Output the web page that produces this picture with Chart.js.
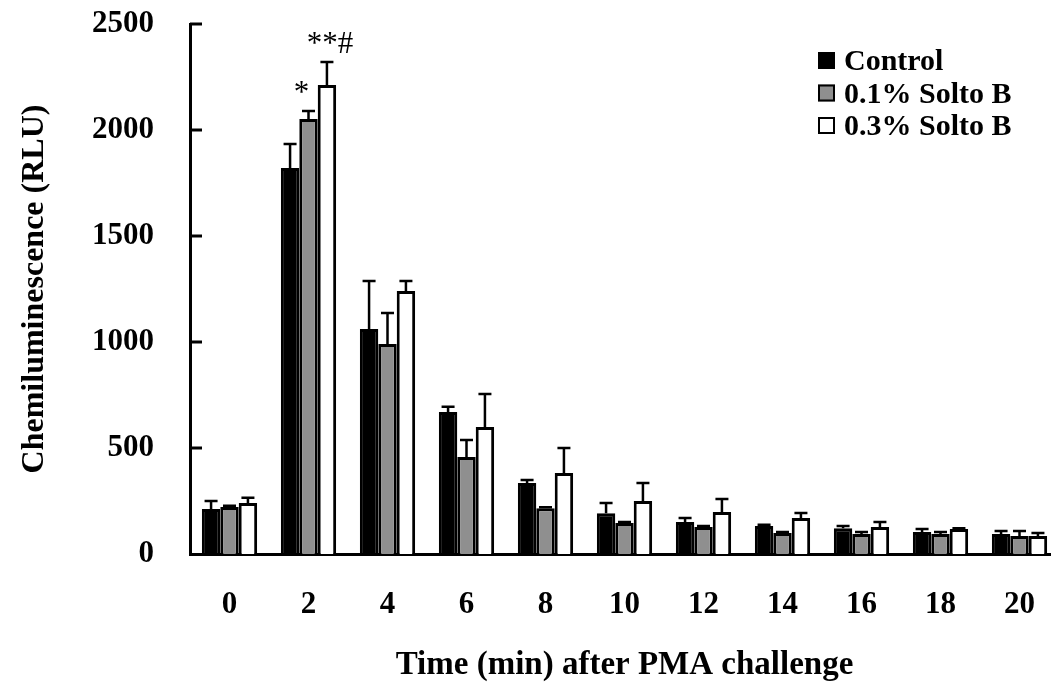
<!DOCTYPE html>
<html>
<head>
<meta charset="utf-8">
<script src="https://cdn.jsdelivr.net/npm/chart.js@4"></script>
<style>
  html, body { margin: 0; padding: 0; background: #fff; overflow: hidden; }
  canvas { display: block; }
</style>
</head>
<body>
<canvas id="chart" width="1060" height="682"></canvas>
<script>
// Time after PMA challenge (min)
const timePoints = ['0', '2', '4', '6', '8', '10', '12', '14', '16', '18', '20'];

// Mean chemiluminescence (RLU) and upper error per group
const controlMean = [212, 1821, 1061, 670, 335, 192, 151, 132, 121, 104, 94];
const controlErr  = [38, 113, 227, 24, 14, 49, 19, 6, 11, 14, 14];
const solto01Mean = [222, 2052, 991, 458, 216, 146, 127, 99, 94, 94, 85];
const solto01Err  = [6, 38, 146, 80, 5, 5, 5, 5, 10, 10, 23];
const solto03Mean = [240, 2212, 1241, 599, 382, 250, 198, 170, 127, 118, 85];
const solto03Err  = [25, 109, 47, 156, 118, 85, 61, 23, 24, 4, 14];

// Significance marks
const controlSig = ['', '', '', '', '', '', '', '', '', '', ''];
const solto01Sig = ['', '*', '', '', '', '', '', '', '', '', ''];
const solto03Sig = ['', '**#', '', '', '', '', '', '', '', '', ''];

// Y axis tick values
const yTicks = [0, 500, 1000, 1500, 2000, 2500];

const SERIF = '"Liberation Serif", "Times New Roman", serif';

// Upward error bars with caps, plus significance marks above them
const errorBarPlugin = {
  id: 'errorBars',
  afterDatasetsDraw(chart) {
    const ctx = chart.ctx;
    const y = chart.scales.y;
    ctx.save();
    chart.data.datasets.forEach((ds, i) => {
      const meta = chart.getDatasetMeta(i);
      meta.data.forEach((bar, j) => {
        const top = y.getPixelForValue(ds.data[j] + ds.errors[j]);
        ctx.strokeStyle = '#000';
        ctx.lineWidth = 2.5;
        ctx.beginPath();
        ctx.moveTo(bar.x, bar.y);
        ctx.lineTo(bar.x, top);
        ctx.moveTo(bar.x - 6.5, top);
        ctx.lineTo(bar.x + 6.5, top);
        ctx.stroke();
        const mark = ds.sig[j];
        if (mark) {
          ctx.fillStyle = '#000';
          ctx.font = '31px ' + SERIF;
          ctx.textAlign = 'center';
          ctx.textBaseline = 'alphabetic';
          ctx.fillText(mark, bar.x + (mark.length > 1 ? 3 : -7), top - 9);
        }
      });
    });
    ctx.restore();
  }
};

// Inward tick marks on the value axis
const innerTicksPlugin = {
  id: 'innerTicks',
  afterDraw(chart) {
    const ctx = chart.ctx;
    const y = chart.scales.y;
    const left = chart.chartArea.left;
    ctx.save();
    ctx.strokeStyle = '#000';
    ctx.lineWidth = 3;
    y.ticks.forEach(t => {
      if (t.value === 0) return;
      const py = y.getPixelForValue(t.value);
      ctx.beginPath();
      ctx.moveTo(left, py);
      ctx.lineTo(left + 12, py);
      ctx.stroke();
    });
    ctx.restore();
  }
};

// Legend drawn inside the plot area, top right
const boxLegendPlugin = {
  id: 'boxLegend',
  afterDraw(chart) {
    const ctx = chart.ctx;
    const x0 = chart.chartArea.right - 241;
    const y0 = 52;
    const rowH = 32.5;
    ctx.save();
    chart.data.datasets.forEach((ds, i) => {
      const by = y0 + i * rowH;
      ctx.fillStyle = ds.backgroundColor;
      ctx.fillRect(x0, by, 17, 17);
      ctx.strokeStyle = '#000';
      ctx.lineWidth = 2;
      ctx.strokeRect(x0 + 1, by + 1, 15, 15);
      ctx.fillStyle = '#000';
      ctx.font = 'bold 30px ' + SERIF;
      ctx.textAlign = 'left';
      ctx.textBaseline = 'alphabetic';
      ctx.fillText(ds.label, x0 + 26, by + 18);
    });
    ctx.restore();
  }
};

const barStyle = { borderColor: '#000', borderWidth: 3 };

new Chart(document.getElementById('chart'), {
  type: 'bar',
  data: {
    labels: timePoints,
    datasets: [
      { label: 'Control', data: controlMean, errors: controlErr, sig: controlSig,
        backgroundColor: '#000000', ...barStyle },
      { label: '0.1% Solto B', data: solto01Mean, errors: solto01Err, sig: solto01Sig,
        backgroundColor: '#8f8f8f', ...barStyle },
      { label: '0.3% Solto B', data: solto03Mean, errors: solto03Err, sig: solto03Sig,
        backgroundColor: '#ffffff', ...barStyle }
    ]
  },
  options: {
    responsive: false,
    animation: false,
    devicePixelRatio: 1,
    categoryPercentage: 0.7,
    barPercentage: 1.0,
    layout: { padding: { top: 24, right: 1, left: 0, bottom: 0 } },
    plugins: { legend: { display: false }, tooltip: { enabled: false } },
    scales: {
      x: {
        offset: true,
        grid: { display: false, drawTicks: false },
        border: { display: true, color: '#000', width: 3 },
        ticks: {
          color: '#000', padding: 32, maxRotation: 0, autoSkip: false,
          font: { family: SERIF, size: 31, weight: 'bold' }
        },
        title: {
          display: true, text: 'Time (min) after PMA challenge', color: '#000',
          font: { family: SERIF, size: 33, weight: 'bold', lineHeight: 1 },
          padding: { top: 0, bottom: 0 }
        },
        afterFit(scale) {
          scale.height = 128;
          scale.paddingLeft = 0;
          scale.paddingRight = 0;
        }
      },
      y: {
        min: 0, max: 2500,
        afterBuildTicks(scale) { scale.ticks = yTicks.map(v => ({ value: v })); },
        grid: { display: false, drawTicks: false },
        border: { display: true, color: '#000', width: 3 },
        ticks: {
          color: '#000', padding: 36,
          font: { family: SERIF, size: 31, weight: 'bold' },
          callback: (v) => String(v)
        },
        title: {
          display: true, text: 'Chemiluminescence (RLU)', color: '#000',
          font: { family: SERIF, size: 32, weight: 'bold', lineHeight: 1 },
          padding: { top: 19, bottom: 0 }
        },
        afterFit(scale) {
          scale.width = 190;
          scale.paddingTop = 0;
          scale.paddingBottom = 0;
        }
      }
    }
  },
  plugins: [errorBarPlugin, innerTicksPlugin, boxLegendPlugin]
});
</script>
</body>
</html>
